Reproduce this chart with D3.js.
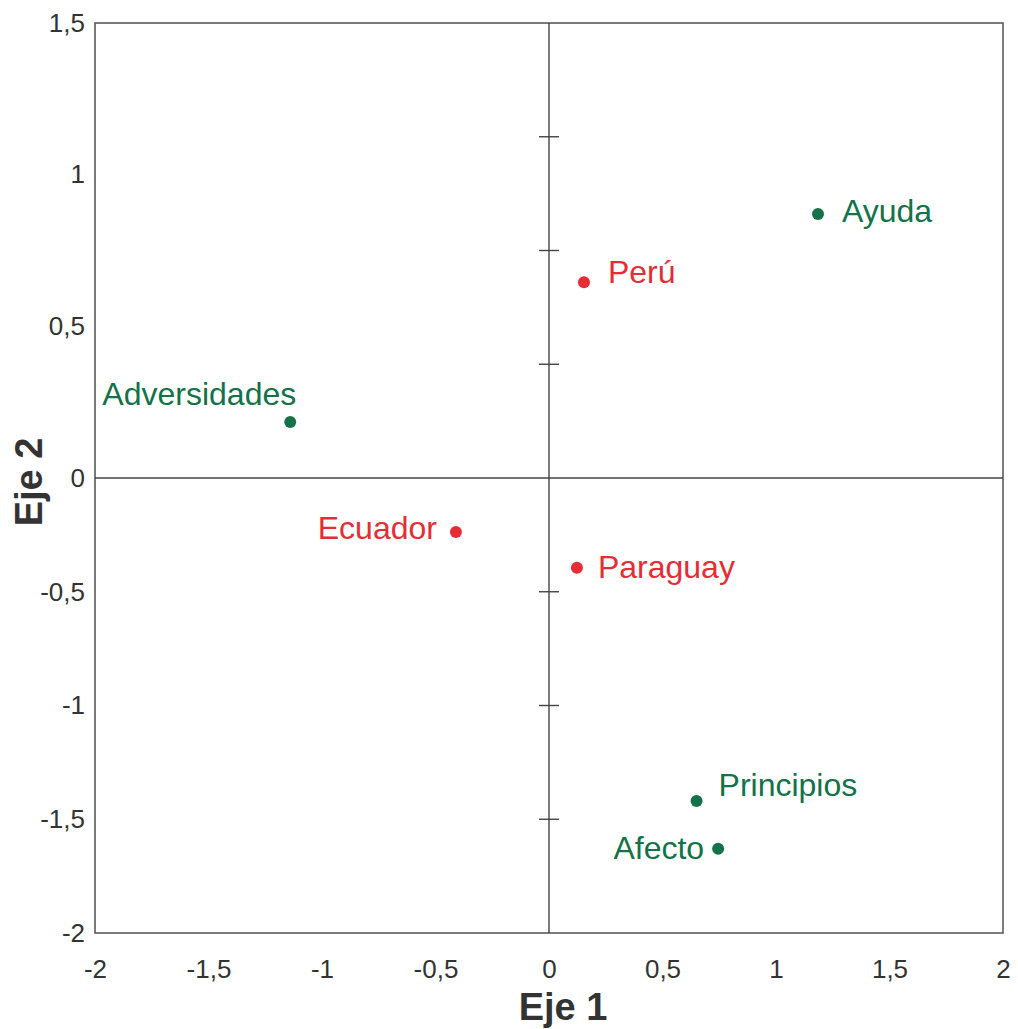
<!DOCTYPE html>
<html>
<head>
<meta charset="utf-8">
<script src="https://cdn.jsdelivr.net/npm/d3@7"></script>
<style>
  body { margin: 0; background: #fff; }
  svg text { font-family: "Liberation Sans", Arial, sans-serif; }
</style>
</head>
<body>
<svg id="chart" width="1018" height="1029"></svg>
<script>
// points of the correspondence map
var names  = ["Ayuda", "Perú", "Adversidades", "Ecuador", "Paraguay", "Principios", "Afecto"]
var eje1   = [1.185, 0.154, -1.14, -0.41, 0.123, 0.65, 0.745]
var eje2   = [0.87, 0.645, 0.185, -0.237, -0.395, -1.42, -1.63]
var groups = ["cat", "pais", "cat", "pais", "pais", "cat", "cat"]

var xTicks = [-2, -1.5, -1, -0.5, 0, 0.5, 1, 1.5, 2]
var yTicks = [-2, -1.5, -1, -0.5, 0, 0.5, 1, 1.5]
var axisMarks = [-1.5, -1, -0.5, 0.5, 1, 1.5]

var colors = { cat: "#137249", pais: "#e42d34" }
// label placement: anchor, dx, dy (px from the dot)
var labelPos = {
  "Ayuda": ["start", 24, 8],
  "Perú": ["start", 24, 1],
  "Adversidades": ["end", 6, -17],
  "Ecuador": ["end", -19, 7],
  "Paraguay": ["start", 21, 10],
  "Principios": ["start", 22, -5],
  "Afecto": ["end", -14, 10]
}

var data = names.map(function (n, i) {
  return { name: n, x: eje1[i], y: eje2[i], group: groups[i] }
})

var pLeft = 95, pRight = 1003, pTop = 23, pBottom = 933, pZero = 478
var svg = d3.select("#chart")

var x = d3.scaleLinear().domain([-2, 2]).range([pLeft, pRight])
// the printed scale on the left is not symmetric
var y = d3.scaleLinear().domain([-2, 0, 1.5]).range([pBottom, pZero, pTop])
// evenly spaced marks on the central axis
var yMark = d3.scaleLinear().domain([-2, 2]).range([pBottom, pTop])

var fmt = function (d) { return String(d).replace(".", ",") }

// frame
svg.append("rect")
  .attr("x", pLeft).attr("y", pTop)
  .attr("width", pRight - pLeft).attr("height", pBottom - pTop)
  .attr("fill", "none").attr("stroke", "#5a5a5a").attr("stroke-width", 1.6)

// central axes
svg.append("line")
  .attr("x1", pLeft).attr("x2", pRight)
  .attr("y1", y(0)).attr("y2", y(0))
  .attr("stroke", "#444").attr("stroke-width", 1.4)
svg.append("line")
  .attr("x1", x(0)).attr("x2", x(0))
  .attr("y1", pTop).attr("y2", pBottom)
  .attr("stroke", "#444").attr("stroke-width", 1.4)
svg.selectAll(".mark")
  .data(axisMarks)
  .enter()
  .append("line")
  .attr("class", "mark")
  .attr("x1", x(0) - 10).attr("x2", x(0) + 10)
  .attr("y1", function (d) { return yMark(d) })
  .attr("y2", function (d) { return yMark(d) })
  .attr("stroke", "#444").attr("stroke-width", 1.4)

// tick labels
var xAxis = svg.append("g")
  .attr("transform", "translate(0," + (pBottom + 24) + ")")
  .call(d3.axisBottom(x).tickValues(xTicks).tickSize(0).tickFormat(fmt))
var yAxis = svg.append("g")
  .attr("transform", "translate(" + (pLeft - 7) + ",0)")
  .call(d3.axisLeft(y).tickValues(yTicks).tickSize(0).tickFormat(fmt))
xAxis.select(".domain").remove()
yAxis.select(".domain").remove()
svg.selectAll(".tick text")
  .attr("font-size", 26)
  .attr("fill", "#333")
  .style("font-family", "'Liberation Sans', Arial, sans-serif")
xAxis.selectAll(".tick text").attr("dy", "0.71em")

// axis titles
svg.append("text")
  .attr("x", 563).attr("y", 1020)
  .attr("text-anchor", "middle")
  .attr("font-size", 38).attr("font-weight", "bold").attr("fill", "#333")
  .text("Eje 1")
svg.append("text")
  .attr("transform", "translate(42,482) rotate(-90)")
  .attr("text-anchor", "middle")
  .attr("font-size", 38).attr("font-weight", "bold").attr("fill", "#333")
  .text("Eje 2")

// points and labels
var pts = svg.append("g")
  .selectAll("g")
  .data(data)
  .enter()
  .append("g")
  .attr("transform", function (d) { return "translate(" + x(d.x) + "," + y(d.y) + ")" })

pts.append("circle")
  .attr("r", 6)
  .attr("fill", function (d) { return colors[d.group] })

pts.append("text")
  .attr("text-anchor", function (d) { return labelPos[d.name][0] })
  .attr("x", function (d) { return labelPos[d.name][1] })
  .attr("y", function (d) { return labelPos[d.name][2] })
  .attr("font-size", 32)
  .attr("fill", function (d) { return colors[d.group] })
  .text(function (d) { return d.name })
</script>
</body>
</html>
